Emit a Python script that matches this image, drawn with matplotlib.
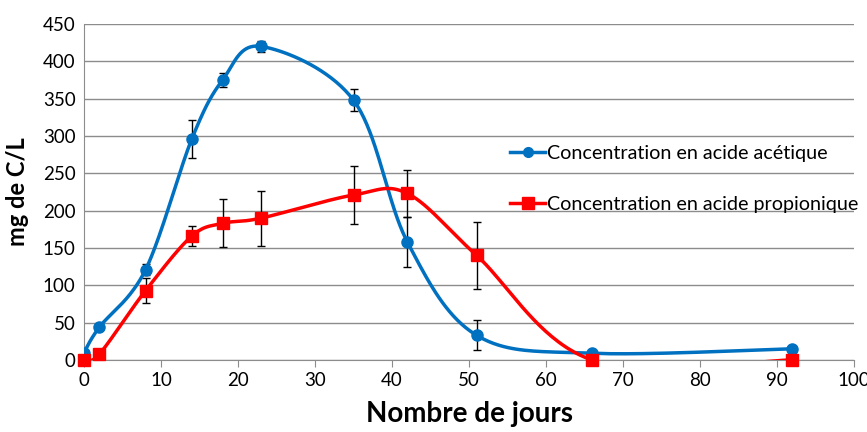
import matplotlib.pyplot as plt
import numpy as np

# Data
jours = [0, 2, 8, 14, 18, 23, 35, 42, 51, 66, 92]
acetique = [10, 44, 121, 296, 375, 420, 348, 158, 33, 9, 15]
acetique_err = [0, 3, 7, 25, 10, 7, 15, 33, 20, 0, 0]
propionique = [0, 8, 93, 166, 183, 190, 221, 223, 140, 0, 0]
propionique_err = [0, 0, 17, 13, 32, 37, 39, 32, 45, 0, 0]

label_ac = "Concentration en acide acétique"
label_pr = "Concentration en acide propionique"


def smooth(x, y, n=40):
    """Excel-like smoothed line (Catmull-Rom as cubic Bezier segments)."""
    x = np.asarray(x, float)
    y = np.asarray(y, float)
    px, py = [], []
    for i in range(len(x) - 1):
        i0 = max(i - 1, 0)
        i3 = min(i + 2, len(x) - 1)
        c1x = x[i] + (x[i + 1] - x[i0]) / 6
        c1y = y[i] + (y[i + 1] - y[i0]) / 6
        c2x = x[i + 1] - (x[i3] - x[i]) / 6
        c2y = y[i + 1] - (y[i3] - y[i]) / 6
        t = np.linspace(0, 1, n)
        b0, b1, b2, b3 = (1 - t) ** 3, 3 * t * (1 - t) ** 2, 3 * t ** 2 * (1 - t), t ** 3
        px.extend(b0 * x[i] + b1 * c1x + b2 * c2x + b3 * x[i + 1])
        py.extend(b0 * y[i] + b1 * c1y + b2 * c2y + b3 * y[i + 1])
    return np.array(px), np.array(py)


plt.rcParams['font.family'] = ['Lato', 'DejaVu Sans']

fig = plt.figure(figsize=(8.67, 4.32), dpi=100)
ax = fig.add_axes([84 / 867, 1 - 360 / 432, 770 / 867, 336 / 432])

blue = "#0070C0"
red = "#FF0000"

sx, sy = smooth(jours, acetique)
ax.plot(sx, sy, color=blue, lw=2.5, zorder=3)
ax.errorbar(jours, acetique, yerr=acetique_err, fmt="none", ecolor="black",
            elinewidth=1, capsize=3, zorder=2)
ax.plot(jours, acetique, "o", color=blue, ms=8, zorder=4)

sx, sy = smooth(jours, propionique)
ax.plot(sx, sy, color=red, lw=2.5, zorder=3)
ax.errorbar(jours, propionique, yerr=propionique_err, fmt="none", ecolor="black",
            elinewidth=1, capsize=3, zorder=2)
ax.plot(jours, propionique, "s", color=red, ms=9, zorder=4, clip_on=False)

# legend proxies
h1, = ax.plot([], [], "-o", color=blue, lw=2.5, ms=7)
h2, = ax.plot([], [], "-s", color=red, lw=2.5, ms=8)
leg = ax.legend([h1, h2], [label_ac, label_pr], loc="upper left",
                bbox_to_anchor=(0.553, 0.641), frameon=False, fontsize=14.2,
                handlelength=1.8, handletextpad=0.1, labelspacing=1.75,
                borderaxespad=0, borderpad=0)
leg.set_zorder(10)

ax.set_xlim(0, 100)
ax.set_ylim(0, 450)
ax.set_xticks(np.arange(0, 101, 10))
ax.set_yticks(np.arange(0, 451, 50))
ax.yaxis.grid(True, color="#8c8c8c", lw=1)
ax.set_axisbelow(True)
for s in ["top", "right"]:
    ax.spines[s].set_visible(False)
for s in ["left", "bottom"]:
    ax.spines[s].set_color("#8c8c8c")
ax.tick_params(axis="both", colors="#8c8c8c", labelcolor="black", labelsize=13.5,
               length=5, direction="out")
ax.tick_params(axis="y", length=0, pad=6)

ax.set_xlabel("Nombre de jours", fontsize=20, fontweight="bold", labelpad=9)
ax.set_ylabel("mg de C/L", fontsize=17, fontweight="bold", labelpad=10)

fig.savefig("out.png", dpi=100)
